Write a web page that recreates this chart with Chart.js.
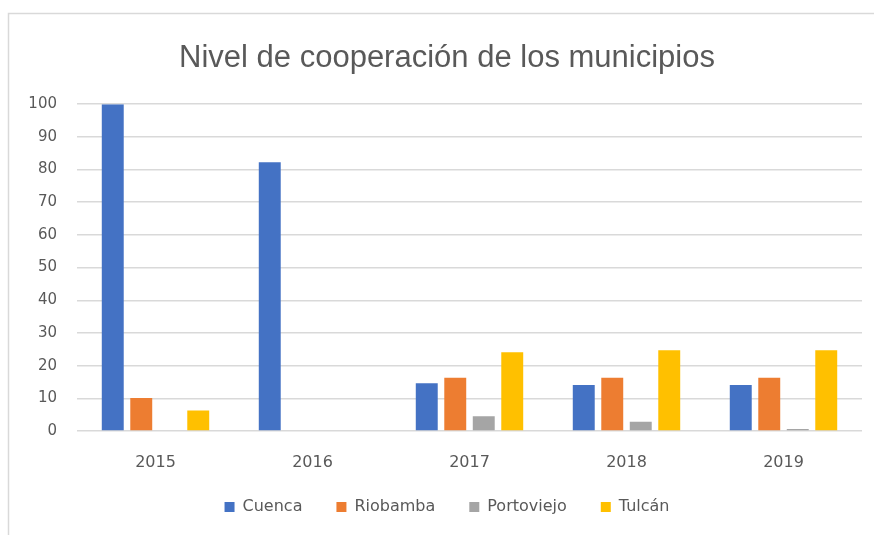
<!DOCTYPE html>
<html lang="es">
<head>
    <meta charset="UTF-8">
    <title>Nivel de cooperación de los municipios</title>
    <script src="https://cdn.jsdelivr.net/npm/chart.js"></script>
    <style>
        html, body { margin: 0; padding: 0; background: #fff; }
        #wrap { position: relative; width: 874px; height: 535px; }
    </style>
</head>
<body>
    <div id="wrap">
        <canvas id="chart" width="874" height="535"></canvas>
    </div>

    <script>
        // data
        const years = ['2015', '2016', '2017', '2018', '2019'];
        const cuenca = [100, 82.2, 14.6, 14.1, 14.1];
        const riobamba = [10.1, 0, 16.3, 16.3, 16.3];
        const portoviejo = [0, 0, 4.5, 2.8, 0.6];
        const tulcan = [6.3, 0, 24.1, 24.7, 24.7];
        const yTicks = [0, 10, 20, 30, 40, 50, 60, 70, 80, 90, 100];

        const textColor = '#595959';
        const gridColor = '#d9d9d9';
        const titleFont = '"Liberation Sans", Arial, sans-serif';
        const labelFont = '"DejaVu Sans", Verdana, sans-serif';

        // light frame round the chart, like the office export
        const framePlugin = {
            id: 'frame',
            beforeDraw(chart) {
                const ctx = chart.ctx;
                ctx.save();
                ctx.strokeStyle = '#d9d9d9';
                ctx.lineWidth = 1.5;
                ctx.strokeRect(8.5, 13.5, 1000, 1000);
                ctx.restore();
            }
        };

        // axes are squeezed with afterFit; widen their label clip boxes again
        const unclipPlugin = {
            id: 'unclip',
            afterLayout(chart) {
                chart.scales.x.bottom += 12;
                chart.scales.y.left = 0;
            }
        };

        function series(label, data, color) {
            return {
                label: label,
                data: data,
                backgroundColor: color,
                borderWidth: 0,
                categoryPercentage: 0.726,
                barPercentage: 0.77
            };
        }

        new Chart(document.getElementById('chart'), {
            type: 'bar',
            data: {
                labels: years,
                datasets: [
                    series('Cuenca', cuenca, '#4472C4'),
                    series('Riobamba', riobamba, '#ED7D31'),
                    series('Portoviejo', portoviejo, '#A5A5A5'),
                    series('Tulcán', tulcan, '#FFC000')
                ]
            },
            options: {
                responsive: false,
                animation: false,
                layout: { padding: { left: 32, right: 12, top: 36, bottom: 10 } },
                plugins: {
                    title: {
                        display: true,
                        text: 'Nivel de cooperación de los municipios',
                        color: textColor,
                        font: { family: titleFont, size: 31, weight: 'normal' },
                        padding: { top: 4, bottom: 27 }
                    },
                    legend: {
                        position: 'bottom',
                        labels: {
                            color: textColor,
                            font: { family: labelFont, size: 16 },
                            boxWidth: 10,
                            boxHeight: 10,
                            padding: 34
                        }
                    },
                    tooltip: { enabled: false }
                },
                scales: {
                    x: {
                        grid: { display: false },
                        border: { display: false },
                        ticks: {
                            color: textColor,
                            font: { family: labelFont, size: 16 },
                            padding: 14
                        },
                        afterFit(scale) { scale.height = 34; }
                    },
                    y: {
                        min: 0,
                        max: 100,
                        afterBuildTicks(scale) {
                            scale.ticks = yTicks.map(v => ({ value: v }));
                        },
                        grid: { color: gridColor, lineWidth: 1.5, drawTicks: false },
                        border: { display: false },
                        ticks: {
                            color: textColor,
                            font: { family: labelFont, size: 15 },
                            padding: 20
                        },
                        afterFit(scale) { scale.width = 45; }
                    }
                }
            },
            plugins: [framePlugin, unclipPlugin]
        });
    </script>
</body>
</html>
